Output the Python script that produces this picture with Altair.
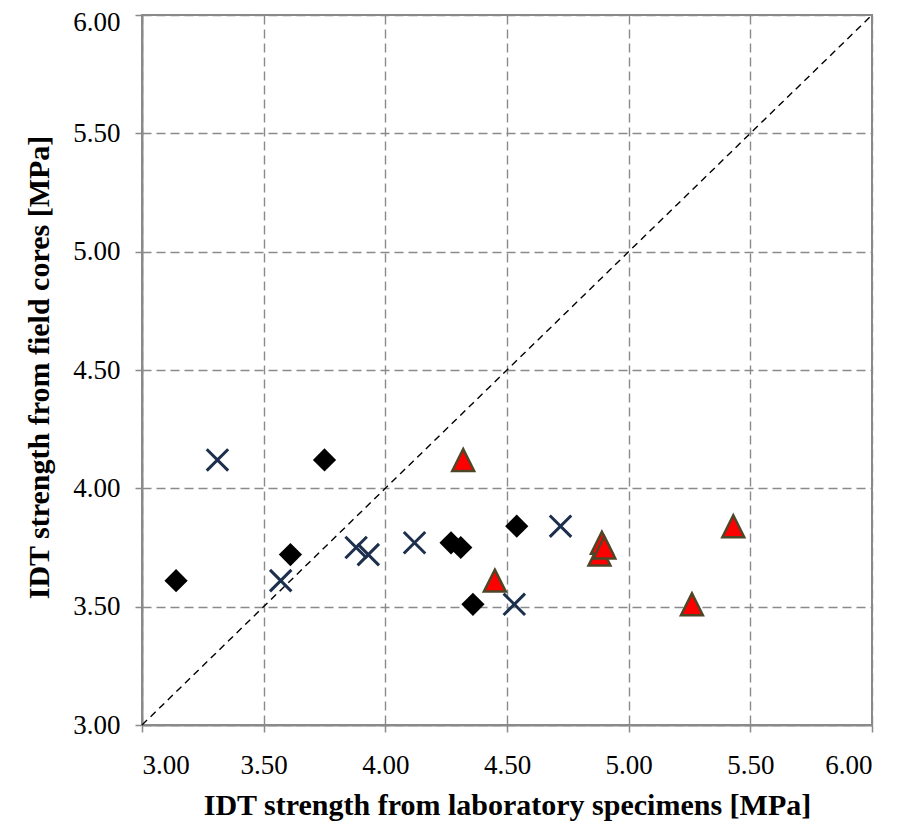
import pandas as pd
import altair as alt


# ── Data ──────────────────────────────────────────────────────────────────────

FIELD_CORES = [4.12, 3.61, 3.72, 3.77, 3.75, 3.51, 3.84]

DIAMOND_LAB = [3.75, 3.14, 3.61, 4.27, 4.31, 4.36, 4.54]
CROSS_LAB = [3.31, 3.57, 3.93, 4.12, 3.88, 4.53, 4.72]
TRIANGLE_LAB = [4.32, 4.45, 4.88, 4.89, 4.90, 5.26, 5.43]

EQUALITY = [3.0, 6.0]
TICKS = [3.0, 3.5, 4.0, 4.5, 5.0, 5.5, 6.0]

FONT = 'Liberation Serif'
GREY = '#8a8a8a'

CROSS_PATH = 'M-1,-1L1,1M-1,1L1,-1'
TRIANGLE_PATH = 'M0,-1L1,1L-1,1Z'


def series(lab: list[float]) -> pd.DataFrame:
    return pd.DataFrame({'lab': lab, 'field': FIELD_CORES})


# ── Chart ─────────────────────────────────────────────────────────────────────

x_axis = alt.Axis(
    values=TICKS, format='.2f', grid=True,
    gridColor=GREY, gridDash=[9, 5], gridWidth=1.4,
    domainColor=GREY, domainWidth=2, tickColor=GREY, tickWidth=1.5, tickSize=7,
    labelFont=FONT, labelFontSize=27, labelColor='black',
    labelBaseline='alphabetic', labelPadding=41,
    title='IDT strength from laboratory specimens [MPa]',
    titleFont=FONT, titleFontSize=30, titleFontWeight='bold', titleColor='black',
    titleBaseline='alphabetic', titleY=89,
)
y_axis = alt.Axis(
    values=TICKS, format='.2f', grid=True,
    gridColor=GREY, gridDash=[9, 5], gridWidth=1.4,
    domainColor=GREY, domainWidth=2, tickColor=GREY, tickWidth=1.5, tickSize=7,
    labelFont=FONT, labelFontSize=27, labelColor='black', labelPadding=15,
    # the top label sits a little below its gridline, as in the original
    labelOffset={'condition': {'test': 'datum.value == 6', 'value': 7}, 'value': 0},
    title='IDT strength from field cores [MPa]',
    titleFont=FONT, titleFontSize=30, titleFontWeight='bold', titleColor='black',
    titleBaseline='alphabetic', titleX=-94, titleY=352, titleAngle=-90,
)

x = alt.X('lab:Q', scale=alt.Scale(domain=[3, 6], nice=False), axis=x_axis)
y = alt.Y('field:Q', scale=alt.Scale(domain=[3, 6], nice=False), axis=y_axis)

diag = (
    alt.Chart(pd.DataFrame({'lab': EQUALITY, 'field': EQUALITY}))
    .mark_line(color='black', strokeDash=[7, 5], strokeWidth=1.4)
    .encode(x=x, y=y)
)

diamonds = (
    alt.Chart(series(DIAMOND_LAB))
    .mark_point(shape='diamond', filled=True, color='black', opacity=1, size=540)
    .encode(x=x, y=y)
)

crosses = (
    alt.Chart(series(CROSS_LAB))
    .mark_point(shape=CROSS_PATH, filled=False, color='#1c2f4d', opacity=1,
                size=460, strokeWidth=3)
    .encode(x=x, y=y)
)

triangles = (
    alt.Chart(series(TRIANGLE_LAB))
    .mark_point(shape=TRIANGLE_PATH, filled=True, fill='#ff0000', stroke='#4f4628',
                opacity=1, fillOpacity=1, size=480, strokeWidth=2.5)
    .encode(x=x, y=y)
)

chart = (
    alt.layer(diag, diamonds, crosses, triangles)
    .properties(
        width=730, height=710,
        autosize=alt.AutoSizeParams(type='none'),
        padding={'left': 134, 'top': 7, 'right': 28, 'bottom': 98},
        background='white',
    )
    .configure_axis(labelFont=FONT, titleFont=FONT)
    .configure_view(stroke=GREY, strokeWidth=2)
)

chart.save('out.html', embed_options={'renderer': 'svg', 'actions': False})
